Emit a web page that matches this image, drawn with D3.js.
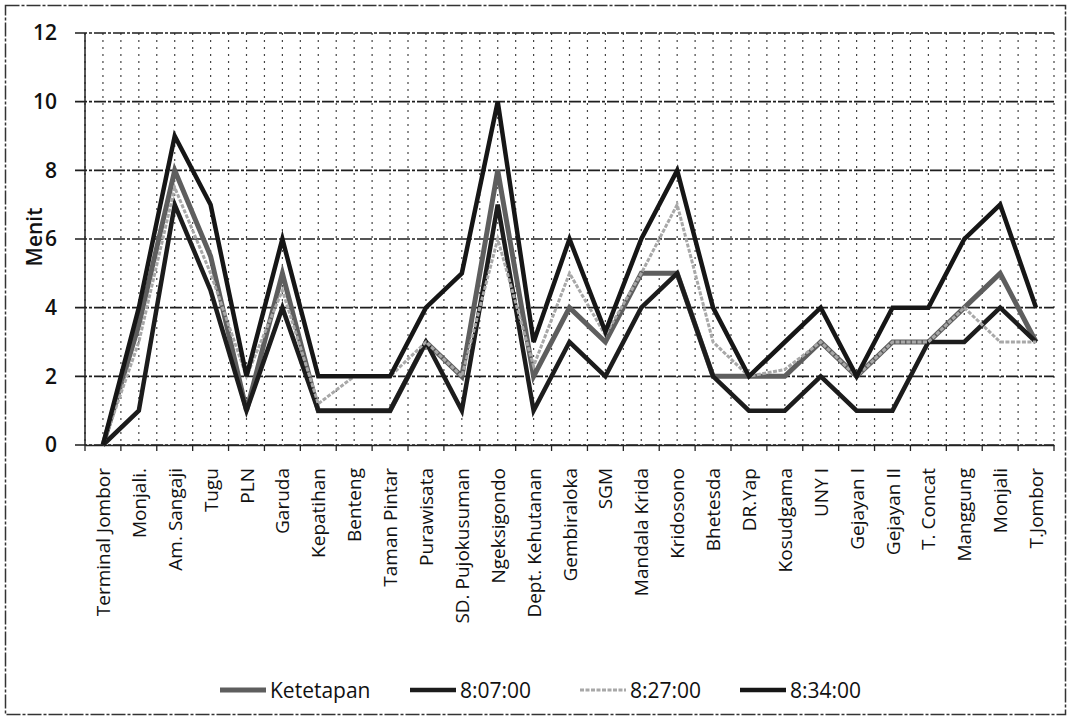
<!DOCTYPE html>
<html>
<head>
<meta charset="utf-8">
<script src="https://cdn.jsdelivr.net/npm/d3@7"></script>
<style>
  html, body { margin: 0; padding: 0; background: #fff; }
  svg { display: block; font-family: "Open Sans", Lato, sans-serif; }
</style>
</head>
<body>
<svg id="chart" width="1071" height="721"></svg>
<script>
const categories = ["Terminal Jombor", "Monjali.", "Am. Sangaji", "Tugu", "PLN", "Garuda", "Kepatihan",
  "Benteng", "Taman Pintar", "Purawisata", "SD. Pujokusuman", "Ngeksigondo", "Dept. Kehutanan",
  "Gembiraloka", "SGM", "Mandala Krida", "Kridosono", "Bhetesda", "DR.Yap", "Kosudgama", "UNY I",
  "Gejayan I", "Gejayan II", "T. Concat", "Manggung", "Monjali", "T.Jombor"];

const ketetapan = [0, 3.5, 8, 5.5, 1, 5, 1, 1, 1, 3, 2, 8, 2, 4, 3, 5, 5, 2, 2, 2, 3, 2, 3, 3, 4, 5, 3];
const t0807     = [0, 1, 7, 4.5, 1, 4, 1, 1, 1, 3, 1, 7, 1, 3, 2, 4, 5, 2, 1, 1, 2, 1, 1, 3, 3, 4, 3];
const t0827     = [0, 3, 7.5, 5, 2, 4.5, 1.2, 2, 2, 3, 2, 6, 2.3, 5, 3.2, 5, 7, 3, 2, 2.2, 3, 2, 3, 3, 4, 3, 3];
const t0834     = [0, 4, 9, 7, 2, 6, 2, 2, 2, 4, 5, 10, 3, 6, 3.3, 6, 8, 4, 2, 3, 4, 2, 4, 4, 6, 7, 4];

const yTicks = [0, 2, 4, 6, 8, 10, 12];
const seriesNames = ["Ketetapan", "8:07:00", "8:27:00", "8:34:00"];

const series = [
  { name: seriesNames[0], values: ketetapan, color: "#5e5e5e", width: 5, dash: null },
  { name: seriesNames[1], values: t0807, color: "#1c1c1c", width: 4.5, dash: null },
  { name: seriesNames[2], values: t0827, color: "#a8a8a8", width: 3, dash: "4,1.5" },
  { name: seriesNames[3], values: t0834, color: "#161616", width: 4.5, dash: null }
];

const svg = d3.select("#chart");
const margin = { left: 85, right: 1054, top: 33, bottom: 445 };

// outer frame
svg.append("rect").attr("x", 5.5).attr("y", 5.5).attr("width", 1060).attr("height", 709)
  .attr("fill", "none").attr("stroke", "#333").attr("stroke-width", 1.5).attr("stroke-dasharray", "14,2,3,2");

const x = d3.scaleBand().domain(categories).range([margin.left, margin.right]).paddingInner(0).paddingOuter(0);
const y = d3.scaleLinear().domain([0, 12]).range([margin.bottom, margin.top]);

const g = svg.append("g");

// vertical dotted gridlines at category centres and boundaries
const vLines = [];
categories.forEach((c) => {
  vLines.push(x(c));
  vLines.push(x(c) + x.bandwidth() / 2);
});
vLines.push(margin.right);
g.selectAll("line.vg").data(vLines).enter().append("line")
  .attr("x1", d => d).attr("x2", d => d)
  .attr("y1", margin.top).attr("y2", margin.bottom)
  .attr("stroke", "#444").attr("stroke-width", 1.2).attr("stroke-dasharray", "2,5");

// horizontal gridlines
g.selectAll("line.hg").data(yTicks).enter().append("line")
  .attr("x1", margin.left - 10).attr("x2", margin.right)
  .attr("y1", d => y(d)).attr("y2", d => y(d))
  .attr("stroke", "#1e1e1e").attr("stroke-width", 1.6).attr("stroke-dasharray", "12,2,3,2");

// left axis line
g.append("line").attr("x1", margin.left).attr("x2", margin.left)
  .attr("y1", margin.top).attr("y2", margin.bottom)
  .attr("stroke", "#222").attr("stroke-width", 1.5);

// y axis
const yAxis = d3.axisLeft(y).tickValues(yTicks).tickSize(0).tickPadding(28);
const ya = svg.append("g").attr("transform", `translate(${margin.left},0)`).call(yAxis);
ya.select(".domain").remove();
ya.selectAll("text").attr("font-size", 21).attr("font-weight", 600).attr("fill", "#111")
  .attr("font-family", "'Open Sans', sans-serif");

// x axis
const xAxis = d3.axisBottom(x).tickSize(0).tickPadding(0);
const xa = svg.append("g").attr("transform", `translate(0,${margin.bottom})`).call(xAxis);
xa.select(".domain").attr("stroke", "#222").attr("stroke-width", 1.6);
xa.selectAll("text")
  .attr("font-size", 19).attr("fill", "#111").attr("font-family", "'Open Sans', sans-serif")
  .attr("text-anchor", "end")
  .attr("transform", "translate(7,23) rotate(-90)")
  .attr("dy", "0").attr("dx", "0").attr("x", 0).attr("y", 0);
// boundary ticks
const bTicks = categories.map(c => x(c)).concat([margin.right]);
svg.append("g").selectAll("line").data(bTicks).enter().append("line")
  .attr("x1", d => d).attr("x2", d => d)
  .attr("y1", margin.bottom).attr("y2", margin.bottom + 6)
  .attr("stroke", "#222").attr("stroke-width", 1.3);

// y title
svg.append("text").attr("transform", `translate(42,237) rotate(-90)`)
  .attr("text-anchor", "middle").attr("font-size", 21).attr("font-weight", 600)
  .attr("fill", "#111").text("Menit");

// lines
const line = d3.line().x((d, i) => x(categories[i]) + x.bandwidth() / 2).y(d => y(d));
const lg = svg.append("g");
series.forEach(s => {
  lg.append("path").datum(s.values)
    .attr("d", line)
    .attr("fill", "none")
    .attr("stroke", s.color)
    .attr("stroke-width", s.width)
    .attr("stroke-linejoin", "miter")
    .attr("stroke-dasharray", s.dash);
});

// legend
const legendX = [220, 410, 580, 740];
const leg = svg.append("g").attr("transform", "translate(0,690)");
series.forEach((s, i) => {
  const gi = leg.append("g").attr("transform", `translate(${legendX[i]},0)`);
  gi.append("line").attr("x1", 0).attr("x2", 46).attr("y1", 0).attr("y2", 0)
    .attr("stroke", s.color).attr("stroke-width", s.width).attr("stroke-dasharray", s.dash);
  gi.append("text").attr("x", 50).attr("y", 8).attr("font-size", 21).attr("fill", "#111")
    .text(s.name);
});
</script>
</body>
</html>
